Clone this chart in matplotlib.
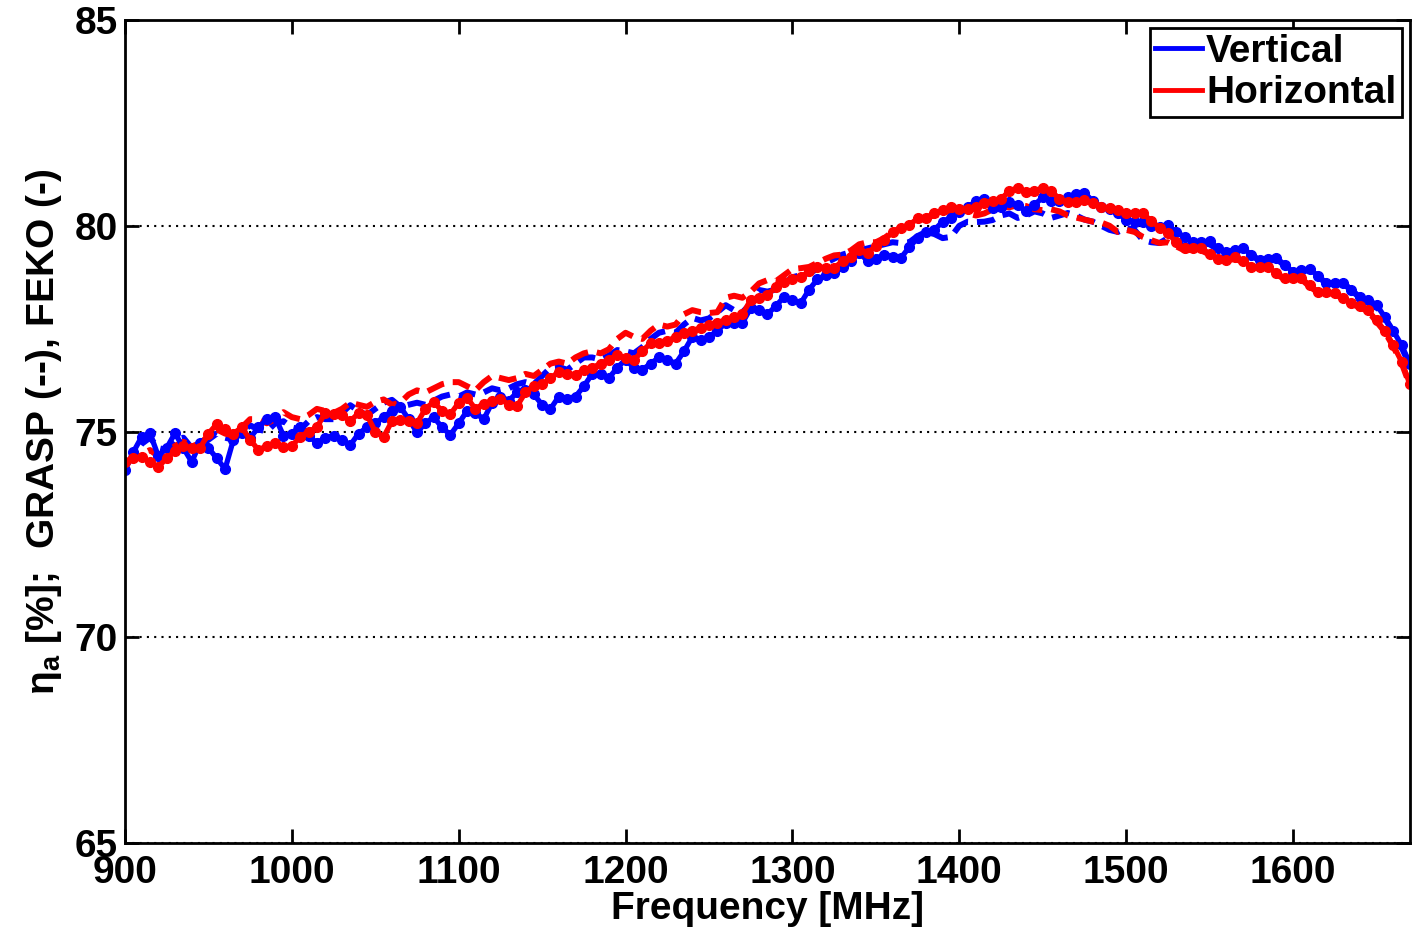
import numpy as np
import matplotlib
matplotlib.use("Agg")
import matplotlib.pyplot as plt
from matplotlib.lines import Line2D

plt.rcParams['font.family'] = ['Liberation Sans', 'DejaVu Sans']
plt.rcParams['mathtext.fontset'] = 'dejavusans'

# frequency grid [MHz], 5 MHz step
freq = np.arange(900, 1671, 5)

# FEKO, vertical (solid blue)
feko_v = [
    74.06, 74.5, 74.87, 74.96, 74.4, 74.6, 74.96, 74.6, 74.26, 74.72,
    74.6, 74.35, 74.09, 74.8, 74.96, 74.85, 75.1, 75.3, 75.35, 74.9,
    74.95, 75.1, 74.9, 74.72, 74.85, 74.9, 74.8, 74.67, 74.95, 75.1,
    75.2, 75.35, 75.5, 75.6, 75.3, 74.98, 75.2, 75.35, 75.1, 74.92,
    75.2, 75.5, 75.45, 75.3, 75.7, 75.85, 75.75, 75.95, 76.0, 75.9,
    75.65, 75.55, 75.85, 75.8, 75.85, 76.1, 76.4, 76.4, 76.3, 76.55,
    76.75, 76.55, 76.5, 76.65, 76.8, 76.75, 76.65, 76.95, 77.3, 77.22,
    77.3, 77.45, 77.64, 77.64, 77.64, 78.0, 77.95, 77.85, 78.05, 78.27,
    78.2, 78.12, 78.45, 78.7, 78.8, 78.85, 79.0, 79.15, 79.34, 79.15,
    79.2, 79.3, 79.25, 79.22, 79.48, 79.7, 79.85, 79.9, 80.1, 80.2,
    80.33, 80.45, 80.6, 80.65, 80.42, 80.45, 80.58, 80.5, 80.35, 80.5,
    80.7, 80.6, 80.6, 80.7, 80.78, 80.8, 80.6, 80.45, 80.4, 80.3,
    80.15, 80.1, 80.08, 80.0, 79.97, 80.02, 79.85, 79.73, 79.6, 79.6,
    79.63, 79.45, 79.36, 79.42, 79.45, 79.3, 79.17, 79.2, 79.22, 79.05,
    78.88, 78.92, 78.95, 78.78, 78.61, 78.62, 78.62, 78.45, 78.27, 78.2,
    78.08, 77.78, 77.45, 77.1, 76.65,
]

# FEKO, horizontal (solid red)
feko_h = [
    74.26, 74.35, 74.38, 74.25, 74.14, 74.35, 74.52, 74.65, 74.6, 74.6,
    74.95, 75.18, 75.05, 74.95, 75.1, 74.8, 74.55, 74.65, 74.72, 74.62,
    74.65, 74.87, 75.0, 75.1, 75.45, 75.42, 75.4, 75.25, 75.45, 75.4,
    75.0, 74.87, 75.25, 75.28, 75.25, 75.2, 75.55, 75.72, 75.5, 75.42,
    75.7, 75.82, 75.55, 75.68, 75.75, 75.8, 75.65, 75.62, 75.95, 76.1,
    76.15, 76.3, 76.45, 76.4, 76.38, 76.5, 76.55, 76.65, 76.75, 76.86,
    76.78, 76.74, 76.95, 77.15, 77.15, 77.2, 77.3, 77.4, 77.45, 77.52,
    77.58, 77.64, 77.72, 77.78, 77.85, 78.2, 78.25, 78.32, 78.5, 78.63,
    78.7, 78.75, 78.9, 79.0, 78.98, 78.97, 79.15, 79.25, 79.41, 79.35,
    79.5, 79.65, 79.85, 79.95, 80.02, 80.18, 80.2, 80.3, 80.38, 80.46,
    80.4, 80.4, 80.45, 80.55, 80.6, 80.65, 80.85, 80.92, 80.82, 80.85,
    80.92, 80.85, 80.65, 80.58, 80.58, 80.62, 80.55, 80.46, 80.42, 80.38,
    80.32, 80.3, 80.3, 80.12, 79.95, 79.82, 79.6, 79.45, 79.45, 79.46,
    79.32, 79.2, 79.17, 79.24, 79.15, 79.0, 79.0, 79.0, 78.85, 78.73,
    78.72, 78.73, 78.55, 78.4, 78.38, 78.37, 78.25, 78.12, 78.05, 77.95,
    77.7, 77.45, 77.1, 76.7, 76.15,
]

# GRASP, vertical (dashed blue)
grasp_v = [
    74.15, 74.4, 74.7, 74.85, 74.6, 74.55, 74.8, 74.85, 74.6, 74.65,
    74.8, 74.95, 74.85, 74.8, 75.0, 75.15, 75.05, 75.0, 75.2, 75.25,
    75.1, 75.05, 75.25, 75.35, 75.3, 75.3, 75.45, 75.64, 75.5, 75.4,
    75.55, 75.7, 75.77, 75.6, 75.65, 75.7, 75.65, 75.75, 75.85, 75.9,
    75.85, 75.95, 75.9, 75.95, 76.05, 76.0, 76.05, 76.15, 76.2, 76.15,
    76.35, 76.55, 76.57, 76.5, 76.65, 76.8, 76.8, 76.75, 76.85, 76.98,
    76.95, 76.9, 77.05, 77.25, 77.4, 77.45, 77.4, 77.6, 77.76, 77.7,
    77.75, 77.9, 78.07, 77.95, 77.9, 78.1, 78.44, 78.4, 78.45, 78.6,
    78.75, 78.8, 78.85, 78.95, 79.1, 79.2, 79.3, 79.36, 79.4, 79.45,
    79.5, 79.55, 79.6, 79.58, 79.6, 79.75, 79.85, 79.8, 79.7, 79.73,
    80.0, 80.1, 80.09, 80.1, 80.14, 80.25, 80.3, 80.19, 80.25, 80.35,
    80.3, 80.19, 80.25, 80.31, 80.25, 80.15, 80.1, 80.0, 79.9, 79.85,
    79.95, 79.9, 79.65, 79.6, 79.58, 79.7, 79.6, 79.5, 79.55, 79.58,
    79.55, 79.42, 79.33, 79.4, 79.42, 79.28, 79.15, 79.18, 79.2, 79.03,
    78.86, 78.9, 78.92, 78.76, 78.6, 78.6, 78.6, 78.43, 78.25, 78.18,
    78.05, 77.75, 77.42, 77.05, 76.6,
]

# GRASP, horizontal (dashed red)
grasp_h = [
    74.2, 74.35, 74.45, 74.55, 74.4, 74.45, 74.65, 74.75, 74.65, 74.7,
    74.9, 75.05, 74.95, 74.9, 75.1, 75.3, 75.3, 75.2, 75.3, 75.47,
    75.35, 75.3, 75.4, 75.55, 75.5, 75.45, 75.55, 75.7, 75.65, 75.6,
    75.72, 75.78, 75.65, 75.7, 75.9, 76.0, 75.95, 76.05, 76.15, 76.2,
    76.2, 76.1, 76.0, 76.2, 76.35, 76.3, 76.25, 76.3, 76.4, 76.35,
    76.5, 76.65, 76.7, 76.65, 76.8, 76.9, 76.95, 76.9, 77.0, 77.25,
    77.4, 77.3, 77.25, 77.45, 77.6, 77.55, 77.6, 77.85, 77.95, 77.9,
    77.88, 77.9, 78.25, 78.3, 78.25, 78.4, 78.6, 78.68, 78.65, 78.8,
    78.95, 78.97, 79.0, 79.1, 79.2, 79.28, 79.3, 79.4, 79.55, 79.6,
    79.6, 79.7, 79.85, 79.95, 80.0, 80.1, 80.2, 80.25, 80.3, 80.35,
    80.35, 80.3, 80.25, 80.3, 80.4, 80.45, 80.45, 80.5, 80.48, 80.4,
    80.38, 80.4, 80.35, 80.25, 80.2, 80.15, 80.1, 80.08, 80.0, 79.85,
    79.9, 79.85, 79.73, 79.65, 79.58, 79.6, 79.5, 79.4, 79.42, 79.4,
    79.3, 79.2, 79.15, 79.2, 79.12, 78.98, 78.97, 78.97, 78.82, 78.7,
    78.7, 78.7, 78.52, 78.38, 78.36, 78.35, 78.22, 78.1, 78.02, 77.92,
    77.67, 77.42, 77.07, 76.67, 76.12,
]

fig = plt.figure(figsize=(14.12, 9.32), dpi=100)
ax = fig.add_axes([0.0885, 0.0955, 0.91, 0.883])

dash = (0, (3, 1.5))
ax.plot(freq, grasp_v, color='blue', lw=4.3, ls=dash)
ax.plot(freq, grasp_h, color='red', lw=4.3, ls=dash)
ax.plot(freq, feko_v, color='blue', lw=3.8, marker='o', ms=7)
ax.plot(freq, feko_h, color='red', lw=3.8, marker='o', ms=7)

ax.set_xlim(900, 1670)
ax.set_ylim(65, 85)
ax.set_xticks(np.arange(900, 1601, 100))
ax.set_yticks([65, 70, 75, 80, 85])
ax.yaxis.grid(True, color='black', ls=(0, (1, 2.5)), lw=1.5)
ax.tick_params(direction='in', length=10, width=2, top=True, right=True,
               labelsize=28, pad=5)
ax.tick_params(axis='x', pad=9)
for lab in ax.get_xticklabels() + ax.get_yticklabels():
    lab.set_fontweight('bold')
for s in ax.spines.values():
    s.set_linewidth(2)

ax.set_xlabel('Frequency [MHz]', fontsize=28, fontweight='bold', labelpad=0)
ax.set_ylabel(r'$\mathregular{\eta_a}$ [%];  GRASP (--), FEKO (-)', fontsize=28,
              fontweight='bold', labelpad=8)

handles = [Line2D([], [], color='blue', lw=3.5), Line2D([], [], color='red', lw=3.5)]
leg = ax.legend(handles, ['Vertical', 'Horizontal'], loc='upper right',
                fancybox=False, framealpha=1, edgecolor='black',
                prop={'size': 28, 'weight': 'bold'}, handlelength=1.2,
                handletextpad=0.1, borderpad=0.15, labelspacing=0.15,
                borderaxespad=0.2)
leg.get_frame().set_linewidth(2)

fig.savefig('out.png', dpi=100)
